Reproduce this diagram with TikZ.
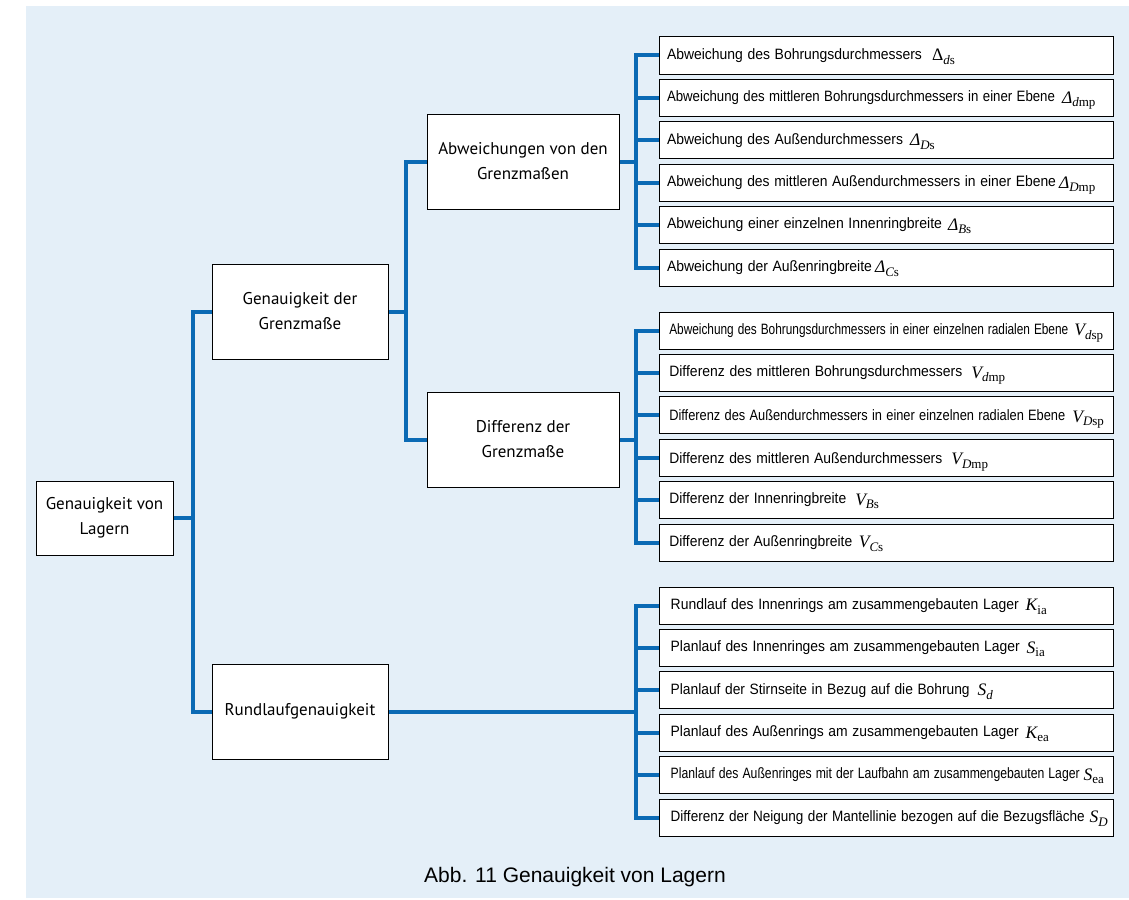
\documentclass[tikz,border=0pt]{standalone}
\usepackage{fontspec}
\usepackage{graphicx}
\setmainfont{Liberation Sans}
\newfontfamily\tms{Liberation Serif}
\newfontfamily\hum{PT Sans}
\usetikzlibrary{calc}

% horizontally fit a text to a given width, keeping its height
\newcommand\fitw[2]{\resizebox{#1}{\height}{#2}}
% tolerance symbol: main letter, italic subscript part, upright subscript part
\newcommand\sy[3]{\smash{\raisebox{-1.5pt}{\tms\fontsize{17.5}{17.5}\selectfont #1}\raisebox{-5pt}{\tms\fontsize{13}{13}\selectfont\itshape #2\upshape #3}}}

\definecolor{panel}{RGB}{228,239,248}
\definecolor{linkblue}{RGB}{10,106,181}

\tikzset{
  lbox/.style={draw=black, line width=1pt, fill=white, inner sep=0pt,
    align=center, font=\hum\fontsize{17}{25}\selectfont},
  rbox/.style={draw=black, line width=1pt, fill=white, inner xsep=2pt, inner ysep=0pt,
    text width=450pt, minimum height=37pt, align=left,
    font=\fontsize{15}{17}\selectfont},
  conn/.style={draw=linkblue, line width=4pt, line join=miter},
}

\begin{document}
\begin{tikzpicture}[x=1pt, y=-1pt]
\useasboundingbox (0,0) rectangle (1129,899);
\fill[panel] (26,6) rectangle (1129,898);

% category boxes
\node[lbox, minimum width=137pt, minimum height=74pt] (root) at (104.5,518) {Genauigkeit von\\Lagern};
\node[lbox, minimum width=176pt, minimum height=95pt] (g1) at (300,311.5) {Genauigkeit der\\Grenzmaße};
\node[lbox, minimum width=176pt, minimum height=95pt] (g2) at (300,711.5) {Rundlaufgenauigkeit};
\node[lbox, minimum width=192pt, minimum height=95pt] (a1) at (523,161.5) {Abweichungen von den\\Grenzmaßen};
\node[lbox, minimum width=192pt, minimum height=95pt] (a2) at (523,439.5) {Differenz der\\Grenzmaße};

% deviations from the limit dimensions
\node[rbox] (r11) at (886,55.5) {\hspace*{6pt}\fitw{255pt}{Abweichung des Bohrungsdurchmessers}\hspace{10pt}\sy{Δ}{d}{s}};
\node[rbox] (r12) at (886,97.9) {\hspace*{6pt}\fitw{388pt}{Abweichung des mittleren Bohrungsdurchmessers in einer Ebene}\hspace{7pt}\sy{\itshape Δ}{d}{mp}};
\node[rbox] (r13) at (886,140.3) {\hspace*{6pt}\fitw{236pt}{Abweichung des Außendurchmessers}\hspace{7pt}\sy{\itshape Δ}{D}{s}};
\node[rbox] (r14) at (886,182.7) {\hspace*{6pt}\fitw{389pt}{Abweichung des mittleren Außendurchmessers in einer Ebene}\hspace{3pt}\sy{\itshape Δ}{D}{mp}};
\node[rbox] (r15) at (886,225.1) {\hspace*{6pt}\fitw{275pt}{Abweichung einer einzelnen Innenringbreite}\hspace{6pt}\sy{\itshape Δ}{B}{s}};
\node[rbox] (r16) at (886,267.5) {\hspace*{6pt}\fitw{205pt}{Abweichung der Außenringbreite}\hspace{3pt}\sy{\itshape Δ}{C}{s}};

% variations of the limit dimensions
\node[rbox] (r21) at (886,330.5) {\hspace*{8.3pt}\fitw{399pt}{Abweichung des Bohrungsdurchmessers in einer einzelnen radialen Ebene}\hspace{6pt}\sy{\itshape V}{d}{sp}};
\node[rbox] (r22) at (886,372.9) {\hspace*{8.3pt}\fitw{293pt}{Differenz des mittleren Bohrungsdurchmessers}\hspace{9pt}\sy{\itshape V}{d}{mp}};
\node[rbox] (r23) at (886,415.3) {\hspace*{8.3pt}\fitw{396pt}{Differenz des Außendurchmessers in einer einzelnen radialen Ebene}\hspace{7pt}\sy{\itshape V}{D}{sp}};
\node[rbox] (r24) at (886,457.7) {\hspace*{8.3pt}\fitw{273pt}{Differenz des mittleren Außendurchmessers}\hspace{9pt}\sy{\itshape V}{D}{mp}};
\node[rbox] (r25) at (886,500.1) {\hspace*{8.3pt}\fitw{177pt}{Differenz der Innenringbreite}\hspace{9pt}\sy{\itshape V}{B}{s}};
\node[rbox] (r26) at (886,542.5) {\hspace*{8.3pt}\fitw{183pt}{Differenz der Außenringbreite}\hspace{6.5pt}\sy{\itshape V}{C}{s}};

% running accuracy
\node[rbox] (r31) at (886,605.5) {\hspace*{9.7pt}\fitw{348pt}{Rundlauf des Innenrings am zusammengebauten Lager}\hspace{7pt}\sy{\itshape K}{}{ia}};
\node[rbox] (r32) at (886,647.9) {\hspace*{9.7pt}\fitw{349pt}{Planlauf des Innenringes am zusammengebauten Lager}\hspace{7pt}\sy{\itshape S}{}{ia}};
\node[rbox] (r33) at (886,690.3) {\hspace*{9.7pt}\fitw{299pt}{Planlauf der Stirnseite in Bezug auf die Bohrung}\hspace{8pt}\sy{\itshape S}{d}{}};
\node[rbox] (r34) at (886,732.7) {\hspace*{9.7pt}\fitw{348pt}{Planlauf des Außenrings am zusammengebauten Lager}\hspace{7pt}\sy{\itshape K}{}{ea}};
\node[rbox] (r35) at (886,775.1) {\hspace*{9.7pt}\fitw{409pt}{Planlauf des Außenringes mit der Laufbahn am zusammengebauten Lager}\hspace{4pt}\sy{\itshape S}{}{ea}};
\node[rbox] (r36) at (886,817.5) {\hspace*{9.7pt}\fitw{414pt}{Differenz der Neigung der Mantellinie bezogen auf die Bezugsfläche}\hspace{5pt}\sy{\itshape S}{D}{}};

% bus points
\coordinate (t0) at ($(root.east)+(19,0)$);
\coordinate (t1) at ($(g1.east)+(17,0)$);
\coordinate (b1) at ($(a1.east)+(16,0)$);
\coordinate (b2) at ($(a2.east)+(16,0)$);
\coordinate (b3) at (g2.east -| b1);

% connectors
\draw[conn] (root.east) -- (t0);
\draw[conn] (t0) |- (g1.west);
\draw[conn] (t0) |- (g2.west);
\draw[conn] (g1.east) -- (t1);
\draw[conn] (t1) |- (a1.west);
\draw[conn] (t1) |- (a2.west);
\draw[conn] (a1.east) -- (b1);
\draw[conn] (a2.east) -- (b2);
\draw[conn] (g2.east) -- (b3);
\foreach \i in {1,...,6} {
  \draw[conn] (b1) |- (r1\i.west);
  \draw[conn] (b2) |- (r2\i.west);
  \draw[conn] (b3) |- (r3\i.west);
}

% caption
\node[font=\fontsize{21}{21}\selectfont] (cap) at (575,877) {Abb. 11 Genauigkeit von Lagern};
\end{tikzpicture}
\end{document}
